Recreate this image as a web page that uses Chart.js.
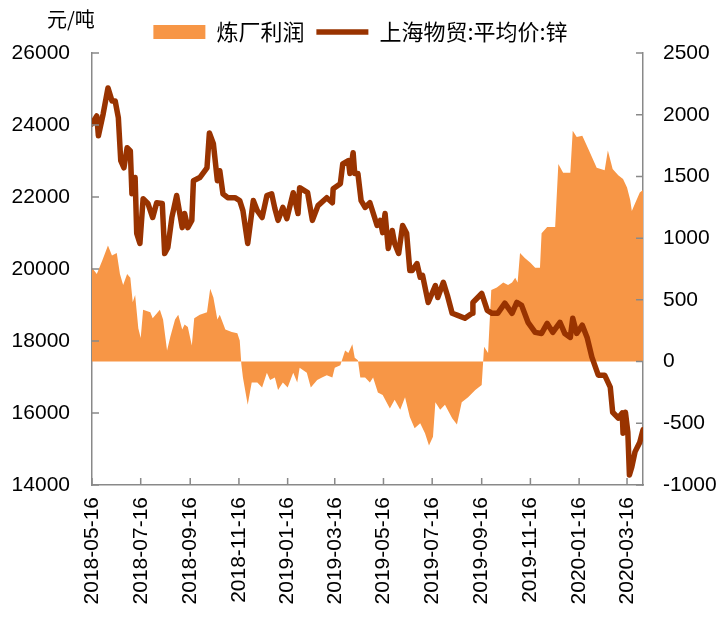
<!DOCTYPE html>
<html>
<head>
<meta charset="utf-8">
<script src="https://cdn.jsdelivr.net/npm/chart.js@4.4.1/dist/chart.umd.min.js"></script>
<style>
  html, body { margin: 0; padding: 0; background: #fff; }
  #wrap { width: 721px; height: 617px; }
</style>
</head>
<body>
<div id="wrap"><canvas id="chart" width="721" height="617"></canvas></div>
<script>
const START = '2018-05-16';

const tickLabels = ['2018-05-16', '2018-07-16', '2018-09-16', '2018-11-16', '2019-01-16', '2019-03-16',
  '2019-05-16', '2019-07-16', '2019-09-16', '2019-11-16', '2020-01-16', '2020-03-16'];

// 上海物贸:平均价:锌 (元/吨)
const priceDates = [
  '2018-05-16', '2018-05-22', '2018-05-24', '2018-05-30', '2018-06-05', '2018-06-10', '2018-06-14', '2018-06-18', '2018-06-21', '2018-06-25',
  '2018-06-29', '2018-07-03', '2018-07-05', '2018-07-09', '2018-07-11', '2018-07-15', '2018-07-19', '2018-07-25', '2018-07-31', '2018-08-05',
  '2018-08-12', '2018-08-15', '2018-08-19', '2018-08-24', '2018-08-30', '2018-09-06', '2018-09-09', '2018-09-13', '2018-09-18', '2018-09-20',
  '2018-09-28', '2018-10-07', '2018-10-10', '2018-10-15', '2018-10-20', '2018-10-23', '2018-10-27', '2018-11-02', '2018-11-11', '2018-11-17',
  '2018-11-21', '2018-11-27', '2018-12-04', '2018-12-09', '2018-12-15', '2018-12-21', '2018-12-27', '2018-12-31', '2019-01-04', '2019-01-10',
  '2019-01-15', '2019-01-23', '2019-01-29', '2019-01-31', '2019-02-10', '2019-02-16', '2019-02-23', '2019-03-06', '2019-03-13', '2019-03-14',
  '2019-03-23', '2019-03-26', '2019-04-02', '2019-04-04', '2019-04-08', '2019-04-10', '2019-04-14', '2019-04-18', '2019-04-23', '2019-04-29',
  '2019-05-08', '2019-05-12', '2019-05-15', '2019-05-18', '2019-05-22', '2019-05-27', '2019-05-30', '2019-06-04', '2019-06-09', '2019-06-14',
  '2019-06-18', '2019-06-21', '2019-06-27', '2019-07-01', '2019-07-04', '2019-07-11', '2019-07-20', '2019-07-23', '2019-07-30', '2019-08-04',
  '2019-08-10', '2019-08-17', '2019-08-26', '2019-09-04', '2019-09-05', '2019-09-16', '2019-09-23', '2019-09-29', '2019-10-06', '2019-10-15',
  '2019-10-24', '2019-10-30', '2019-11-05', '2019-11-13', '2019-11-22', '2019-11-30', '2019-12-07', '2019-12-14', '2019-12-23', '2019-12-29',
  '2020-01-05', '2020-01-08', '2020-01-13', '2020-01-20', '2020-01-26', '2020-02-01', '2020-02-09', '2020-02-17', '2020-02-24', '2020-02-27',
  '2020-03-05', '2020-03-10', '2020-03-11', '2020-03-14', '2020-03-17', '2020-03-19', '2020-03-22', '2020-03-26', '2020-04-01', '2020-04-05'
];
const priceValues = [
  24030, 24250, 23700, 24310, 25030, 24670, 24670, 24200, 23010, 22810,
  23370, 23280, 22090, 22540, 20990, 20710, 21950, 21820, 21430, 21840,
  21820, 20430, 20600, 21430, 22040, 21150, 21540, 21150, 21350, 22450,
  22540, 22810, 23780, 23480, 22450, 22730, 22090, 21980, 21980, 21900,
  21620, 20710, 21900, 21620, 21430, 22040, 22090, 21680, 21350, 21710,
  21400, 22120, 21540, 22260, 22120, 21350, 21760, 21980, 21840, 22230,
  22370, 22920, 23010, 22650, 23230, 22650, 22650, 21900, 21710, 21840,
  21210, 21350, 21010, 21540, 20570, 21070, 20710, 20430, 21210, 20990,
  19960, 19960, 20150, 19770, 19820, 19070, 19540, 19210, 19630, 19270,
  18770, 18710, 18630, 18770, 19070, 19320, 18850, 18770, 18770, 19050,
  18770, 19070, 18990, 18520, 18240, 18210, 18490, 18240, 18520, 18210,
  18100, 18630, 18210, 18440, 18100, 17550, 17050, 17050, 16720, 16020,
  15860, 16000, 15440, 16020, 15470, 14280, 14500, 14920, 15190, 15530
];

// 炼厂利润 (元/吨, right axis)
const profitDates = [
  '2018-05-16', '2018-05-22', '2018-05-29', '2018-06-05', '2018-06-10', '2018-06-16', '2018-06-20', '2018-06-24', '2018-06-29', '2018-07-03',
  '2018-07-06', '2018-07-09', '2018-07-13', '2018-07-16', '2018-07-19', '2018-07-28', '2018-07-31', '2018-08-09', '2018-08-13', '2018-08-18',
  '2018-08-22', '2018-08-28', '2018-09-01', '2018-09-06', '2018-09-09', '2018-09-13', '2018-09-18', '2018-09-21', '2018-09-28', '2018-10-07',
  '2018-10-11', '2018-10-15', '2018-10-20', '2018-10-23', '2018-10-30', '2018-11-07', '2018-11-14', '2018-11-17', '2018-11-19', '2018-11-21',
  '2018-11-27', '2018-12-02', '2018-12-09', '2018-12-15', '2018-12-21', '2018-12-25', '2018-12-31', '2019-01-04', '2019-01-10', '2019-01-16',
  '2019-01-23', '2019-01-28', '2019-01-31', '2019-02-09', '2019-02-14', '2019-02-22', '2019-02-28', '2019-03-06', '2019-03-13', '2019-03-16',
  '2019-03-23', '2019-03-25', '2019-03-29', '2019-04-02', '2019-04-07', '2019-04-10', '2019-04-14', '2019-04-17', '2019-04-23', '2019-04-29',
  '2019-05-03', '2019-05-09', '2019-05-15', '2019-05-24', '2019-05-30', '2019-06-06', '2019-06-12', '2019-06-18', '2019-06-24', '2019-07-01',
  '2019-07-07', '2019-07-12', '2019-07-17', '2019-07-20', '2019-07-26', '2019-08-01', '2019-08-10', '2019-08-16', '2019-08-22', '2019-08-30',
  '2019-09-08', '2019-09-16', '2019-09-19', '2019-09-24', '2019-09-28', '2019-10-05', '2019-10-13', '2019-10-19', '2019-10-24', '2019-10-28',
  '2019-10-31', '2019-11-03', '2019-11-09', '2019-11-16', '2019-11-22', '2019-11-28', '2019-11-30', '2019-12-07', '2019-12-17', '2019-12-21',
  '2019-12-27', '2020-01-05', '2020-01-08', '2020-01-13', '2020-01-20', '2020-01-27', '2020-02-07', '2020-02-17', '2020-02-21', '2020-02-27',
  '2020-03-05', '2020-03-11', '2020-03-16', '2020-03-20', '2020-03-22', '2020-03-26', '2020-04-01', '2020-04-05'
];
const profitValues = [
  760, 710, 820, 940, 860, 880, 710, 620, 710, 680,
  480, 540, 270, 190, 420, 400, 350, 420, 340, 90,
  200, 340, 380, 260, 300, 280, 130, 350, 380, 400,
  590, 520, 340, 380, 260, 240, 230, 170, -20, -130,
  -350, -170, -170, -210, -90, -150, -130, -230, -170, -210,
  -90, -170, -50, -90, -210, -150, -130, -110, -130, -50,
  -30, 10, 90, 70, 140, 30, 10, -130, -130, -170,
  -130, -250, -270, -380, -310, -390, -290, -450, -540, -500,
  -580, -680, -610, -330, -390, -350, -460, -510, -330, -290,
  -230, -190, 120, 70, 580, 600, 640, 620, 640, 680,
  640, 880, 840, 800, 760, 760, 1040, 1090, 1090, 1600,
  1530, 1530, 1870, 1820, 1830, 1730, 1570, 1550, 1710, 1560,
  1510, 1480, 1410, 1310, 1220, 1280, 1370, 1390
];

const LINE_COLOR = '#993300';
const AREA_COLOR = '#F79646';
const AXIS_COLOR = '#898989';

const DAY_MS = 86400000;
const toDay = (s) => Math.round((Date.parse(s) - Date.parse(START)) / DAY_MS);
const tickDays = tickLabels.map(toDay);
const lastDay = Math.max(toDay(priceDates[priceDates.length - 1]), toDay(profitDates[profitDates.length - 1]));

Chart.defaults.font.family = "'Liberation Sans', Arial, sans-serif";
Chart.defaults.color = '#000';

// ticks point into the plot area, plus the unit label
const innerTicks = {
  id: 'innerTicks',
  afterDraw(chart) {
    const { ctx, chartArea: area, scales } = chart;
    const len = 7;
    ctx.save();
    ctx.strokeStyle = AXIS_COLOR;
    ctx.lineWidth = 1.5;
    ctx.beginPath();
    scales.y.ticks.forEach((t) => {
      const py = scales.y.getPixelForValue(t.value);
      ctx.moveTo(area.left, py);
      ctx.lineTo(area.left + len, py);
    });
    scales.y1.ticks.forEach((t) => {
      const py = scales.y1.getPixelForValue(t.value);
      ctx.moveTo(area.right, py);
      ctx.lineTo(area.right - len, py);
    });
    scales.x.ticks.forEach((t) => {
      const px = scales.x.getPixelForValue(t.value);
      ctx.moveTo(px, area.bottom);
      ctx.lineTo(px, area.bottom - len);
    });
    ctx.stroke();

    ctx.fillStyle = '#000';
    ctx.font = "20px 'Noto Sans CJK SC', sans-serif";
    ctx.textAlign = 'left';
    ctx.textBaseline = 'middle';
    ctx.fillText('元/吨', 47, 19);
    ctx.restore();
  }
};

new Chart(document.getElementById('chart'), {
  data: {
    datasets: [
      {
        type: 'line',
        label: '炼厂利润',
        data: profitDates.map((d, i) => ({ x: toDay(d), y: profitValues[i] })),
        yAxisID: 'y1',
        backgroundColor: AREA_COLOR,
        borderColor: AREA_COLOR,
        borderWidth: 0,
        pointRadius: 0,
        pointStyle: 'rect',
        fill: 'origin',
        order: 2,
      },
      {
        type: 'line',
        label: '上海物贸:平均价:锌',
        data: priceDates.map((d, i) => ({ x: toDay(d), y: priceValues[i] })),
        yAxisID: 'y',
        borderColor: LINE_COLOR,
        backgroundColor: LINE_COLOR,
        borderWidth: 5.5,
        borderJoinStyle: 'round',
        borderCapStyle: 'round',
        pointRadius: 0,
        pointStyle: 'line',
        fill: false,
        order: 1,
      },
    ],
  },
  options: {
    responsive: false,
    animation: false,
    devicePixelRatio: 1,
    layout: { padding: { top: 9, left: 0, right: 0, bottom: 0 } },
    plugins: {
      tooltip: { enabled: false },
      legend: {
        position: 'top',
        labels: {
          usePointStyle: true,
          pointStyleWidth: 52,
          boxHeight: 14,
          padding: 12,
          color: '#000',
          font: { family: "'Noto Sans CJK SC', sans-serif", size: 22 },
          sort: (a, b) => a.datasetIndex - b.datasetIndex,
        },
      },
    },
    scales: {
      x: {
        type: 'linear',
        min: 0,
        max: lastDay,
        afterBuildTicks: (scale) => {
          scale.ticks = tickDays.map((v) => ({ value: v }));
        },
        afterFit: (scale) => { scale.height = 132; },
        ticks: {
          autoSkip: false,
          minRotation: 90,
          maxRotation: 90,
          padding: 12,
          font: { size: 21 },
          callback: (v) => tickLabels[tickDays.indexOf(v)] || '',
        },
        grid: { display: false, drawTicks: false },
        border: { color: AXIS_COLOR, width: 1.5 },
      },
      y: {
        position: 'left',
        min: 14000,
        max: 26000,
        afterFit: (scale) => { scale.width = 92; },
        ticks: { stepSize: 2000, padding: 22, font: { size: 21 }, callback: (v) => String(v) },
        grid: { display: false, drawTicks: false },
        border: { color: AXIS_COLOR, width: 1.5 },
      },
      y1: {
        position: 'right',
        min: -1000,
        max: 2500,
        afterFit: (scale) => { scale.width = 78; },
        ticks: { stepSize: 500, padding: 20, font: { size: 21 }, callback: (v) => String(v) },
        grid: { display: false, drawTicks: false },
        border: { color: AXIS_COLOR, width: 1.5 },
      },
    },
  },
  plugins: [innerTicks],
});
</script>
</body>
</html>
